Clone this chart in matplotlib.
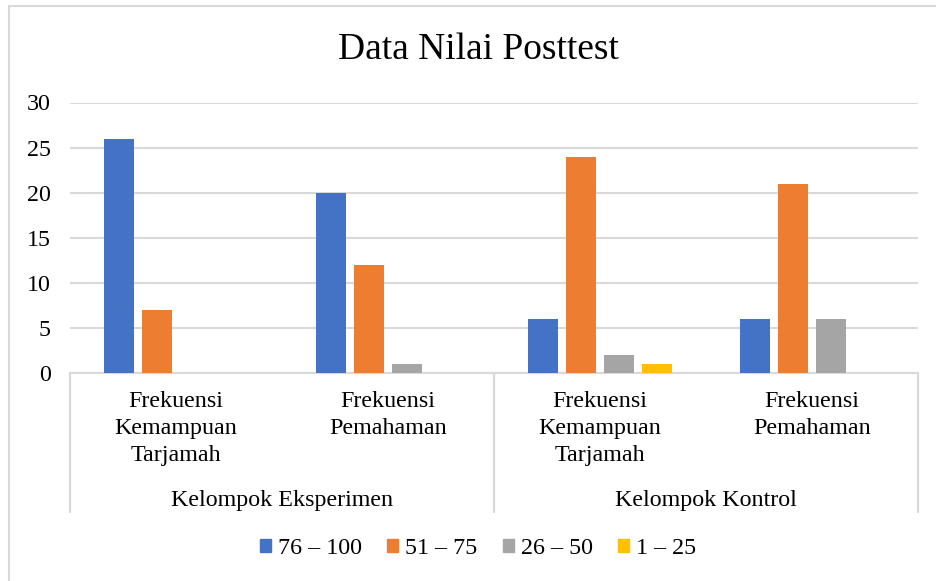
import matplotlib
matplotlib.use("Agg")
import matplotlib.pyplot as plt
from matplotlib.patches import Patch, Rectangle
import numpy as np

plt.rcParams['font.family'] = ['Liberation Serif', 'DejaVu Serif']

# categories (two-level axis)
sub_labels = ["Frekuensi\nKemampuan\nTarjamah", "Frekuensi\nPemahaman",
              "Frekuensi\nKemampuan\nTarjamah", "Frekuensi\nPemahaman"]
group_labels = ["Kelompok Eksperimen", "Kelompok Kontrol"]

# series values
series_names = ["76 – 100", "51 – 75", "26 – 50", "1 – 25"]
v_76_100 = [26, 20, 6, 6]
v_51_75 = [7, 12, 24, 21]
v_26_50 = [0, 1, 2, 6]
v_1_25 = [0, 0, 1, 0]
colors = ["#4472C4", "#ED7D31", "#A5A5A5", "#FFC000"]

fs = 17.3

fig = plt.figure(figsize=(9.36, 5.81), dpi=100)
ax = fig.add_axes([70 / 936, 1 - 373 / 581, 848 / 936, 270.5 / 581])

# chart border (only left/top visible in the crop)
fig.patches.append(Rectangle((9 / 936, -0.1), 1.2, 1 - 6 / 581 + 0.1,
                             transform=fig.transFigure, fill=False,
                             edgecolor="#D9D9D9", linewidth=1.5))

x = np.arange(len(sub_labels))
width = 0.1415
step = 0.179
all_vals = [v_76_100, v_51_75, v_26_50, v_1_25]
for i, (vals, name, c) in enumerate(zip(all_vals, series_names, colors)):
    ax.bar(x + (i - 1.5) * step, vals, width, color=c, label=name, zorder=3)

ax.set_xlim(-0.5, 3.5)
ax.set_ylim(0, 30)
ax.set_yticks(range(0, 31, 5))
ax.yaxis.grid(True, color="#D9D9D9", linewidth=1.5, zorder=0)
ax.set_axisbelow(True)
ax.tick_params(axis='y', length=0, pad=14, labelsize=fs)
ax.set_xticks([])
for s in ["left", "right", "top"]:
    ax.spines[s].set_visible(False)
ax.spines["bottom"].set_color("#D9D9D9")
ax.spines["bottom"].set_linewidth(1.5)

# category labels
trans = ax.get_xaxis_transform()
for xi, lab in zip(x, sub_labels):
    ax.text(xi, -0.068, lab, transform=trans, ha="center", va="top",
            fontsize=fs, linespacing=1.35)
for gi, lab in enumerate(group_labels):
    ax.text(gi * 2 + 0.5, -0.47, lab, transform=trans, ha="center",
            va="center", fontsize=fs)
for sx in [-0.5, 1.5, 3.5]:
    ax.plot([sx, sx], [0, -0.514], transform=trans, color="#D9D9D9",
            linewidth=1.5, clip_on=False)

fig.text(478 / 936, 1 - 50 / 581, "Data Nilai Posttest", ha="center",
         va="center", fontsize=27)

handles = [Patch(color=c, label=n) for c, n in zip(colors, series_names)]
fig.legend(handles=handles, loc="center", bbox_to_anchor=(0.511, 1 - 549 / 581),
           ncol=4, frameon=False, fontsize=fs, handlelength=0.45,
           handleheight=0.45, handletextpad=0.3, columnspacing=1.05)

fig.savefig("out.png", dpi=100)
